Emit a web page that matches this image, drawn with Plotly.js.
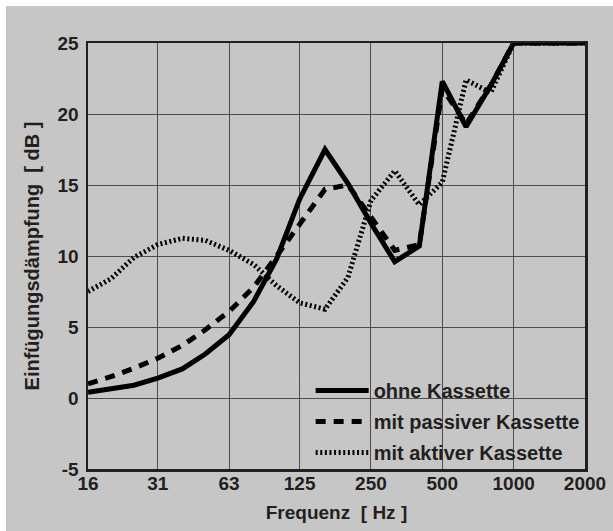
<!DOCTYPE html>
<html>
<head>
<meta charset="utf-8">
<script src="https://cdn.plot.ly/plotly-3.0.1.min.js"></script>
<style>
  html, body { margin: 0; padding: 0; background: #ffffff; }
  #chart { position: absolute; left: 6px; top: 6px; width: 607px; height: 525px; }
</style>
</head>
<body>
<div id="chart"></div>
<script>
// Terzband-Mittenfrequenzen [Hz]
const frequencies = [16, 20, 25, 31.5, 40, 50, 63, 80, 100, 125, 160, 200, 250, 315, 400, 500, 630, 800, 1000, 1250, 1600, 2000];
// Einfügungsdämpfung [dB]
const ohneKassette    = [0.4, 0.65, 0.9, 1.4, 2.05, 3.1, 4.45, 6.8, 9.8, 14.0, 17.5, 15.1, 12.3, 9.6, 10.7, 22.3, 19.1, 22.0, 25, 25, 25, 25];
const passiveKassette = [1.0, 1.5, 2.1, 2.8, 3.7, 4.8, 6.1, 7.8, 10.0, 12.3, 14.7, 15.0, 12.7, 10.4, 10.8, 21.8, 19.3, 22.0, 25, 25, 25, 25];
const aktiveKassette  = [7.5, 8.4, 9.9, 10.8, 11.25, 11.1, 10.4, 9.4, 7.9, 6.7, 6.25, 8.5, 13.9, 16.0, 13.6, 15.2, 22.4, 21.5, 25, 25, 25, 25];

const seriesNames = ['ohne Kassette', 'mit passiver Kassette', 'mit aktiver Kassette'];
const xTickVals = [16, 31.5, 63, 125, 250, 500, 1000, 2000];
const xTickText = ['16', '31', '63', '125', '250', '500', '1000', '2000'];
const yTickVals = [-5, 0, 5, 10, 15, 20, 25];
const yTickText = ['-5', '0', '5', '10', '15', '20', '25'];

const FONT = '"Liberation Sans", Arial, Helvetica, sans-serif';
const TXT = '#231f20';
const BG = '#c6c6c6';
const b = s => '<b>' + s + '</b>';

const traces = [
  { x: frequencies, y: ohneKassette, name: b(seriesNames[0]), legendgroup: 'a',
    mode: 'lines', cliponaxis: false,
    line: { color: '#000000', width: 5, dash: 'solid' } },
  { x: frequencies, y: passiveKassette, name: b(seriesNames[1]), legendgroup: 'b',
    mode: 'lines', cliponaxis: false,
    line: { color: '#000000', width: 5, dash: '10px,8px' } },
  { x: frequencies, y: aktiveKassette, name: b(seriesNames[2]), legendgroup: 'c',
    mode: 'lines', cliponaxis: false,
    line: { color: '#000000', width: 5, dash: '2px,2.6px' } }
];

const layout = {
  width: 607, height: 525,
  paper_bgcolor: BG, plot_bgcolor: BG,
  margin: { l: 82, r: 28, t: 37, b: 62, pad: 0 },
  font: { family: FONT, size: 19, color: TXT, weight: 700 },
  showlegend: true,
  legend: {
    x: 0.448, xanchor: 'left', y: -0.007, yanchor: 'bottom',
    bgcolor: 'rgba(0,0,0,0)', borderwidth: 0,
    font: { family: FONT, size: 20, color: TXT, weight: 700 },
    itemwidth: 53, traceorder: 'grouped', tracegroupgap: 2,
    itemclick: false
  },
  // legend backdrop: hides the grid behind the legend, sits under the traces
  shapes: [{
    type: 'rect', xref: 'paper', yref: 'paper', layer: 'between',
    x0: 0.43, x1: 1, y0: 0, y1: 0.213,
    fillcolor: BG, line: { width: 0 }
  }],
  xaxis: {
    type: 'log',
    range: [Math.log10(16), Math.log10(2000)],
    tickmode: 'array', tickvals: xTickVals, ticktext: xTickText.map(b),
    showgrid: true, gridcolor: '#4d4d4d', gridwidth: 1,
    zeroline: false,
    showline: true, mirror: true, linecolor: TXT, linewidth: 2.5,
    ticks: '', ticklabelstandoff: -4,
    tickfont: { family: FONT, size: 19, color: TXT, weight: 700 },
    title: { text: b('Frequenz  [ Hz ]'), standoff: 13,
             font: { family: FONT, size: 19, color: TXT, weight: 700 } }
  },
  yaxis: {
    range: [-5, 25],
    tickmode: 'array', tickvals: yTickVals, ticktext: yTickText.map(b),
    showgrid: true, gridcolor: '#4d4d4d', gridwidth: 1,
    zeroline: false,
    showline: true, mirror: true, linecolor: TXT, linewidth: 2.5,
    ticks: '', ticklabelstandoff: 3,
    tickfont: { family: FONT, size: 19, color: TXT, weight: 700 },
    title: { text: b('Einfügungsdämpfung  [ dB ]'), standoff: 13,
             font: { family: FONT, size: 20, color: TXT, weight: 700 } }
  }
};

Plotly.newPlot('chart', traces, layout, { displayModeBar: false, staticPlot: true });
</script>
</body>
</html>
